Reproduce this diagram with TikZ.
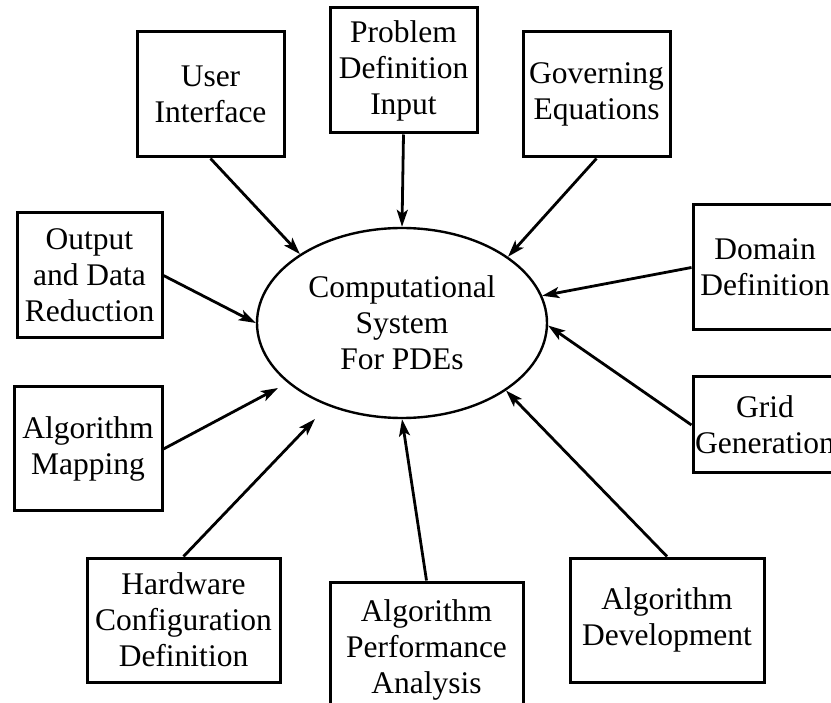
\documentclass[tikz,border=0pt]{standalone}
\usepackage{fontspec}
\setmainfont{Liberation Serif}
\usetikzlibrary{arrows.meta,shapes.geometric}
\begin{document}
\begin{tikzpicture}[x=1pt,y=-1pt,
  txt/.style={font=\fontsize{31.5}{36}\selectfont, align=center, inner sep=0pt},
  box/.style={txt, draw, line width=3pt, rectangle},
  hub/.style={txt, draw, ellipse, line width=2.4pt, minimum width=290pt, minimum height=190pt},
  arr/.style={line width=2.8pt, -{Stealth[length=17pt,width=11pt,inset=4pt]}}]
\useasboundingbox (0,0) rectangle (831,703);
\clip (0,0) rectangle (831,703);
\node[hub] (sys) at (402,323) {Computational\\System\\For PDEs};
\node[box, minimum width=147pt, minimum height=125pt] (ui) at (210.5,94.5) {User\\Interface};
\node[box, minimum width=147pt, minimum height=125pt] (prob) at (403.5,70.5) {Problem\\Definition\\Input};
\node[box, minimum width=147pt, minimum height=125pt] (gov) at (596.5,94.5) {Governing\\Equations};
\node[box, minimum width=144pt, minimum height=125pt] (dom) at (765,267.5) {Domain\\Definition};
\node[box, minimum width=144pt, minimum height=96pt] (grid) at (765,425) {Grid\\Generation};
\node[box, minimum width=145pt, minimum height=125pt] (out) at (89.5,275.5) {Output\\and Data\\Reduction};
\node[box, minimum width=148pt, minimum height=124pt] (map) at (88,449) {Algorithm\\Mapping};
\node[box, minimum width=193pt, minimum height=124pt] (hw) at (183.5,620) {Hardware\\Configuration\\Definition};
\node[box, minimum width=193pt, minimum height=136pt] (perf) at (426.5,650) {Algorithm\\Performance\\Analysis};
\node[box, minimum width=194pt, minimum height=124pt] (dev) at (667,620) {Algorithm\\Development};
\coordinate (mapEnd) at (278,388);
\coordinate (hwEnd) at (315,419);
\draw[arr] (ui.south) -- (sys.146);
\draw[arr] (prob.south) -- (sys.90);
\draw[arr] (gov.south) -- (sys.32);
\draw[arr] (dom.west) -- (sys.11);
\draw[arr] (grid.west) -- (sys.-1);
\draw[arr] (out.east) -- (sys.180);
\draw[arr] (map.east) -- (mapEnd);
\draw[arr] (hw.north) -- (hwEnd);
\draw[arr] (perf.north) -- (sys.-90);
\draw[arr] (dev.north) -- (sys.-33);
\end{tikzpicture}
\end{document}
